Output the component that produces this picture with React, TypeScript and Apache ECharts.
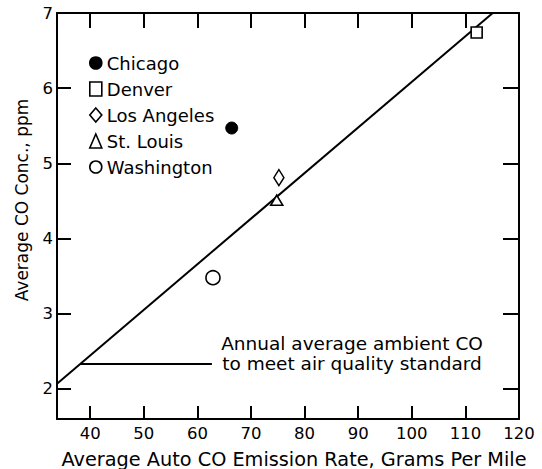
import React, { useEffect, useRef } from 'react';
import * as echarts from 'echarts';

const FONT = '"DejaVu Sans", sans-serif';

// Axis ticks / labels
const xLabelValues = [40, 50, 60, 70, 80, 90, 100, 110, 120];
const xTickValues = [40, 50, 60, 70, 80, 90, 100, 110];
const yLabelValues = [2, 3, 4, 5, 6, 7];
const yTickValues = [2, 3, 4, 5, 6];
const xMin = 33.8;
const xMax = 120;
const yMin = 1.6;
const yMax = 7;

// Data: cities, emission rate (g/mile), CO concentration (ppm)
const cities = ['Chicago', 'Denver', 'Los Angeles', 'St. Louis', 'Washington'];
const emissionRate = [66.4, 112.1, 75.2, 74.8, 62.9];
const coConc = [5.47, 6.74, 4.81, 4.51, 3.48];

// Fitted line
const fitX = [33.8, 115.1];
const fitY = [2.07, 7];

// Air quality standard level line
const stdX = [38.1, 62.7];
const stdY = [2.333, 2.333];

const symbols = ['circle', 'rect', 'diamond', 'triangle', 'circle'];
const symbolSizes: any[] = [12, 11, [10, 16], [12, 10], 14];
const filled = [true, false, false, false, false];

export default function App() {
  const ref = useRef<HTMLDivElement>(null);
  useEffect(() => {
    if (!ref.current) return;
    const chart = echarts.init(ref.current, undefined, { renderer: 'svg' });
    const axisLine = { show: true, onZero: false, lineStyle: { color: '#000', width: 2 } };
    const tickStyle = { color: '#000', width: 2 };
    const labelStyle = { color: '#000', fontSize: 16.5, fontFamily: FONT };

    const scatterSeries = cities.map((name, i) => ({
      type: 'scatter',
      name,
      symbol: symbols[i],
      symbolSize: symbolSizes[i],
      itemStyle: filled[i]
        ? { color: '#000', borderColor: '#000', borderWidth: 1, opacity: 1 }
        : { color: '#fff', borderColor: '#000', borderWidth: 1.6, opacity: 1 },
      data: [[emissionRate[i], coConc[i]]],
      z: 5,
    }));

    chart.setOption({
      animation: false,
      backgroundColor: '#fff',
      grid: { left: 57, right: 23, top: 13, bottom: 50 },
      legend: {
        data: cities,
        orient: 'vertical',
        left: 89,
        top: 54,
        padding: 0,
        itemWidth: 12,
        itemHeight: 14,
        itemGap: 8,
        itemStyle: { borderWidth: 1.6, opacity: 1 },
        textStyle: { color: '#000', fontSize: 18, lineHeight: 18, fontFamily: FONT },
      },
      xAxis: [
        {
          type: 'value', min: xMin, max: xMax, position: 'bottom',
          axisLine,
          axisTick: { show: true, inside: true, length: 13, customValues: xTickValues, lineStyle: tickStyle },
          axisLabel: { show: true, customValues: xLabelValues, margin: 6, ...labelStyle },
          splitLine: { show: false },
        },
        {
          type: 'value', min: xMin, max: xMax, position: 'top',
          axisLine,
          axisTick: { show: true, inside: true, length: 15, customValues: xTickValues, lineStyle: tickStyle },
          axisLabel: { show: false },
          splitLine: { show: false },
        },
      ],
      yAxis: [
        {
          type: 'value', min: yMin, max: yMax, position: 'left',
          axisLine,
          axisTick: { show: true, inside: true, length: 14, customValues: yTickValues, lineStyle: tickStyle },
          axisLabel: { show: true, customValues: yLabelValues, margin: 4, ...labelStyle },
          splitLine: { show: false },
        },
        {
          type: 'value', min: yMin, max: yMax, position: 'right',
          axisLine,
          axisTick: { show: true, inside: true, length: 16, customValues: yTickValues, lineStyle: tickStyle },
          axisLabel: { show: false },
          splitLine: { show: false },
        },
      ],
      graphic: [
        {
          type: 'text', x: 294, y: 459,
          style: {
            text: 'Average Auto CO Emission Rate, Grams Per Mile',
            fill: '#000', fontSize: 19.3, fontFamily: FONT, align: 'center', verticalAlign: 'middle',
          },
        },
        {
          type: 'text', x: 22, y: 200, rotation: Math.PI / 2,
          style: {
            text: 'Average CO Conc., ppm',
            fill: '#000', fontSize: 17, fontFamily: FONT, align: 'center', verticalAlign: 'middle',
          },
        },
        {
          type: 'text', x: 352, y: 353,
          style: {
            text: 'Annual average ambient CO\nto meet air quality standard',
            fill: '#000', fontSize: 18.5, lineHeight: 20, fontFamily: FONT, align: 'center', verticalAlign: 'middle',
          },
        },
      ],
      series: [
        {
          type: 'line', name: 'fit', data: fitX.map((x, i) => [x, fitY[i]]),
          symbol: 'none', lineStyle: { color: '#000', width: 2 }, z: 3,
        },
        {
          type: 'line', name: 'standard', data: stdX.map((x, i) => [x, stdY[i]]),
          symbol: 'none', lineStyle: { color: '#000', width: 2 }, z: 3,
        },
        ...scatterSeries,
      ],
    });
    return () => chart.dispose();
  }, []);
  return <div ref={ref} style={{ position: 'absolute', left: 0, top: 0, width: 542, height: 469 }} />;
}
